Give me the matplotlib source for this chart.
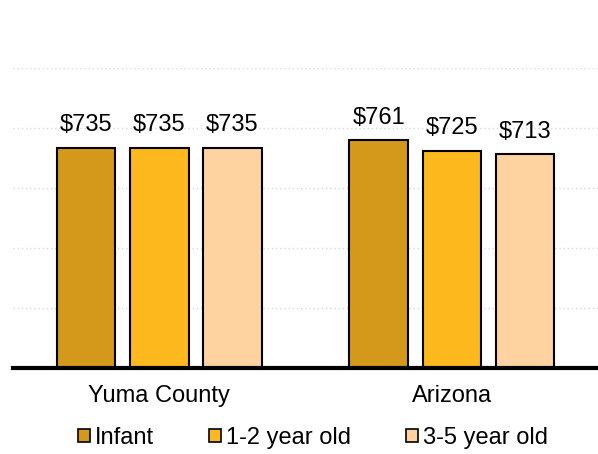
import numpy as np
import matplotlib.pyplot as plt
from matplotlib.patches import Patch

plt.rcParams["font.family"] = ["Liberation Sans", "DejaVu Sans"]

regions = ["Yuma County", "Arizona"]
age_groups = ["Infant", "1-2 year old", "3-5 year old"]
infant = [735, 761]
toddler = [735, 725]
preschool = [735, 713]
colors = ["#D4991A", "#FDB81E", "#FED3A0"]

fig = plt.figure(figsize=(5.98, 4.54), dpi=100)
ax = fig.add_axes([13 / 598, 86 / 454, 585 / 598, 300 / 454])

x = np.arange(len(regions))
width = 0.2
step = 0.25
for i, (vals, col) in enumerate(zip([infant, toddler, preschool], colors)):
    pos = x + (i - 1) * step
    bars = ax.bar(pos, vals, width, color=col, edgecolor="black",
                  linewidth=1.5, zorder=3)
    for b, v in zip(bars, vals):
        ax.annotate(f"${v}", (b.get_x() + b.get_width() / 2, v),
                    xytext=(0, 8), textcoords="offset points",
                    ha="center", va="bottom", fontsize=17)

ax.set_xlim(-0.5, 1.5)
ax.set_ylim(0, 1000)
ax.set_yticks([200, 400, 600, 800, 1000])
ax.yaxis.grid(True, color="#d9d9d9", linestyle=(0, (1, 2)), linewidth=1.0,
              zorder=0)
ax.tick_params(axis="y", left=False, labelleft=False)
ax.tick_params(axis="x", length=0, pad=12, labelsize=17)
ax.set_xticks(x)
ax.set_xticklabels(regions)
for s in ["top", "right", "left"]:
    ax.spines[s].set_visible(False)
ax.spines["bottom"].set_linewidth(3)
ax.spines["bottom"].set_zorder(4)

handles = [Patch(facecolor=c, edgecolor="black", linewidth=1.2) for c in colors]
fig.legend(handles, age_groups, loc="center", bbox_to_anchor=(0.523, 0.036),
           ncol=3, frameon=False, fontsize=17, handlelength=0.5,
           handleheight=0.5, handletextpad=0.2, columnspacing=2.35)

fig.savefig("out.png", dpi=100)
